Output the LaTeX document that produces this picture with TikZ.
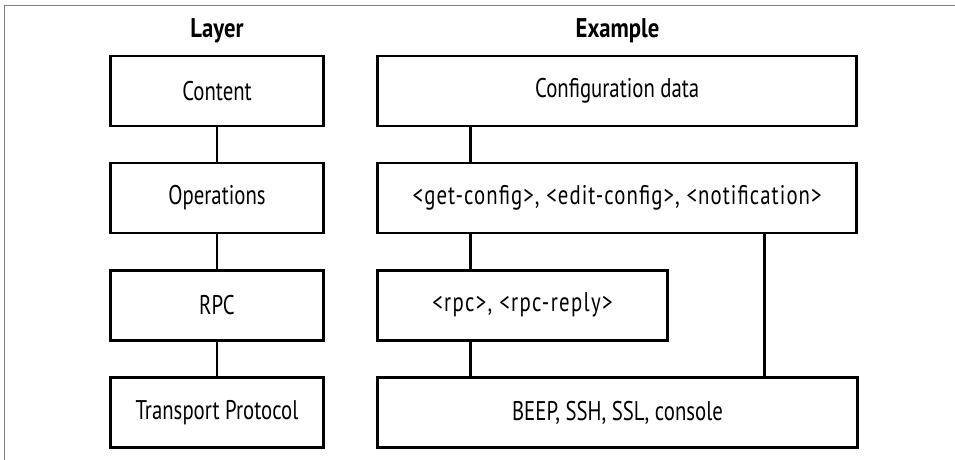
\documentclass[tikz,border=0pt]{standalone}
\usepackage{fontspec}
\setmainfont{PT Sans}[FakeStretch=0.77]
\newfontfamily\headfont{PT Sans}[FakeStretch=0.84]
\begin{document}
\begin{tikzpicture}[x=1pt,y=-1pt,
  box/.style={draw=black, line width=2.5pt, minimum height=70pt, inner sep=0pt, font=\fontsize{27}{29}\selectfont},
  head/.style={font=\headfont\bfseries\fontsize{27}{29}\selectfont},
  link/.style={line width=2.5pt}]
\useasboundingbox (0,0) rectangle (955,460);
\draw[gray, line width=1pt] (4,460) -- (4,6) -- (955,6);
\node[head] (hl) at (217,31) {Layer};
\node[head] (hr) at (617.5,31) {Example};
% left column
\node[box, minimum width=212.6pt] (content) at (217,91) {Content};
\node[box, minimum width=212.6pt] (ops) at (217,198) {Operations};
\node[box, minimum width=212.6pt] (rpc) at (217,305.3) {RPC};
\node[box, minimum width=212.6pt] (tp) at (217,412.7) {Transport Protocol};
% right column
\node[box, minimum width=479pt] (cfg) at (617.2,91) {Configuration data};
\node[box, minimum width=479pt] (opx) at (617.2,198) {\addfontfeature{LetterSpace=4}<get-config>, <edit-config>, <notification>};
\node[box, minimum width=289.6pt] (rpcx) at (522.5,305.3) {\addfontfeature{LetterSpace=5}<rpc>, <rpc-reply>};
\node[box, minimum width=479.6pt] (tpx) at (617.5,412.7) {BEEP, SSH, SSL, console};
\coordinate (c1) at (470.7,0);
\coordinate (c2) at (764.3,0);
% connectors
\draw[link] (content) -- (ops);
\draw[link] (ops) -- (rpc);
\draw[link] (rpc) -- (tp);
\draw[link] (cfg.south -| c1) -- (opx.north -| c1);
\draw[link] (opx.south -| c1) -- (rpcx.north -| c1);
\draw[link] (rpcx.south -| c1) -- (tpx.north -| c1);
\draw[link] (opx.south -| c2) -- (tpx.north -| c2);
\end{tikzpicture}
\end{document}
